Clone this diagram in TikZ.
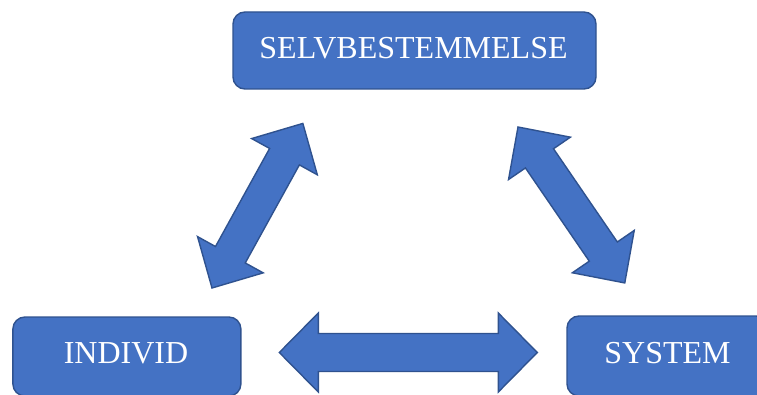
\documentclass[tikz,border=0pt]{standalone}
\usepackage{fontspec}
\setmainfont{Liberation Serif}
\definecolor{boxblue}{HTML}{4472C4}
\definecolor{edgeblue}{HTML}{2F528F}
\tikzset{
  blk/.style={fill=boxblue, draw=edgeblue, line width=1.4pt, line join=miter},
  boxnode/.style={blk, rectangle, rounded corners=12pt, inner sep=0pt},
  lbl/.style={text=white, anchor=base, inner sep=0pt, font=\fontsize{32}{38}\selectfont},
}
\newcommand{\dblarrowshape}[4]{%
  \draw[blk] (0,0) -- (#4,#2/2) -- (#4,#3/2) -- (#1-#4,#3/2) -- (#1-#4,#2/2) -- (#1,0)
    -- (#1-#4,-#2/2) -- (#1-#4,-#3/2) -- (#4,-#3/2) -- (#4,-#2/2) -- cycle;}
\begin{document}
\begin{tikzpicture}[x=1pt, y=1pt]
\useasboundingbox (0,0) rectangle (757,394);
\clip (0,0) rectangle (757,394);
% boxes
\node[boxnode, minimum width=363pt, minimum height=77pt] (top) at (414.5,343.5) {};
\node[boxnode, minimum width=228pt, minimum height=79pt] (ind) at (126.9,37.5) {};
\node[boxnode, minimum width=201pt, minimum height=80pt] (sys) at (667.5,38) {};
% labels
\node[lbl] (toplbl) at (413.5,335.7) {SELVBESTEMMELSE};
\node[lbl] (indlbl) at (126,31) {INDIVID};
\node[lbl] (syslbl) at (667.5,31) {SYSTEM};
% block arrows
\begin{scope}[shift={(212,106)}, rotate=61.1]
  \dblarrowshape{188}{75}{34}{38}
\end{scope}
\begin{scope}[shift={(518,267)}, rotate=-55.6]
  \dblarrowshape{189}{75}{34}{38}
\end{scope}
\begin{scope}[shift={(279.3,41.5)}]
  \dblarrowshape{258}{79}{38}{39}
\end{scope}
\end{tikzpicture}
\end{document}
